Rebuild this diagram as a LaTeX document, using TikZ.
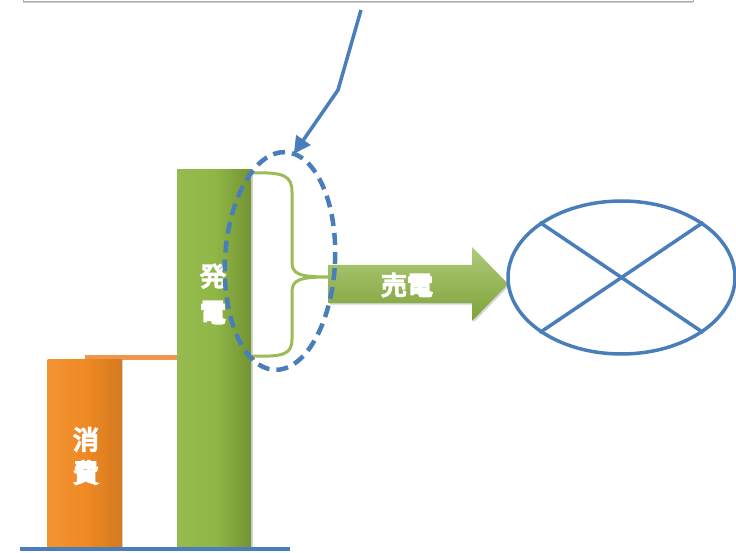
\documentclass[tikz,border=0pt]{standalone}
\usepackage{fontspec}
\newfontfamily\jp{Noto Sans CJK JP}
\usepackage{tikz}
\usetikzlibrary{positioning,shadows,arrows.meta,shapes.geometric}

\definecolor{lineblue}{HTML}{4A7EBB}
\definecolor{gengreen}{HTML}{8CB43F}
\definecolor{bracegreen}{HTML}{9BBB59}
\definecolor{useorange}{HTML}{F08A24}
\definecolor{lineorange}{HTML}{F0954C}

% fill and stroke the glyphs for heavy white labels
\newcommand\heavy[1]{\special{pdf:literal direct 2 Tr 1.5 w}#1\special{pdf:literal direct 0 Tr 0.4 w}}

\begin{document}
\begin{tikzpicture}[x=1pt, y=-1pt,
    note/.style={rectangle, draw=gray!65, fill=white, minimum width=670, minimum height=40,
        anchor=south, drop shadow={shadow xshift=0pt, shadow yshift=-2pt, opacity=0.4}},
    genbar/.style={rectangle, draw=none, left color=gengreen!92!white, right color=gengreen!82!black,
        middle color=gengreen!96!white, drop shadow={shadow xshift=1.5pt, shadow yshift=-1pt, opacity=0.35},
        minimum width=74, minimum height=378},
    usebar/.style={rectangle, draw=none, left color=useorange!92!white, right color=useorange!88!black,
        middle color=useorange, drop shadow={shadow xshift=1.5pt, shadow yshift=-1pt, opacity=0.35},
        minimum width=74, minimum height=189},
    barlabel/.style={text=white, font=\jp\fontsize{26}{36}\selectfont, align=center},
    focus/.style={ellipse, draw=lineblue, line width=4.5pt, dash pattern=on 12pt off 7pt,
        minimum width=110, minimum height=218, inner sep=0pt},
    site/.style={ellipse, draw=lineblue, line width=3.5pt, minimum width=227, minimum height=153, inner sep=0pt},
    pointer/.style={draw=lineblue, line width=3.5pt, -{Triangle[length=17pt,width=17pt]}},
    cross/.style={draw=lineblue, line width=3.5pt},
    brace/.style={draw=bracegreen, line width=3pt}
]
\useasboundingbox (0,0) rectangle (736,553);

% callout box at the top
\node [note] (note) at (358,1) {};

% consumption line, behind the bars
\draw [lineorange, line width=5pt] (85,357) -- (255,357);

% bars
\node [usebar] (use) at (84.5,453.5) {};
\node [genbar] (gen) at (214,359) {};
\node [barlabel] (uselabel) at (86,456) {\heavy{消}\\[-3pt]\heavy{費}};
\node [barlabel] (genlabel) at (213,294) {\heavy{発}\\\heavy{電}};

% base line
\draw [lineblue, line width=4pt] (20,549) -- (290,549);

% surplus brace
\draw [brace] (253,173) .. controls (284,172) and (292,176) .. (292,192)
    -- (292,262) .. controls (292,274) and (299,277) .. (328,277)
    .. controls (299,277) and (292,280) .. (292,292)
    -- (292,339) .. controls (292,354) and (284,357) .. (253,356);

% selling arrow
\path [top color=gengreen!70!white, bottom color=gengreen!90!black,
    drop shadow={shadow xshift=1.5pt, shadow yshift=-1.5pt, opacity=0.35}]
    (328,265) -- (472,265) -- (472,247) -- (508,284) -- (472,321) -- (472,303) -- (328,303) -- cycle;
\node [barlabel] (sell) at (407,285) {\heavy{売電}};

% highlighted part and the pointer from the box
\node [focus, rotate=-3] (focus) at (280,261) {};
\coordinate (start) at (361,10);
\coordinate (bend) at (338,90);
\draw [pointer] (start) -- (bend) -- ([xshift=8pt, yshift=-4pt]focus.north);

% crossed-out target
\node [site] (site) at (621.5,277.5) {};
\draw [cross] (site.34) -- (site.214);
\draw [cross] (site.146) -- (site.326);

\end{tikzpicture}
\end{document}
